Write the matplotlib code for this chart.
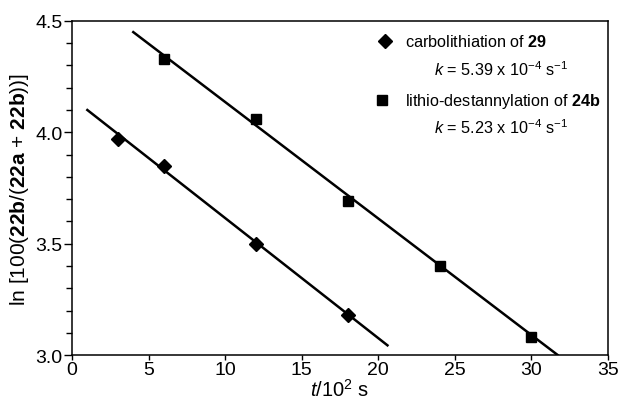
import numpy as np
import matplotlib.pyplot as plt
from matplotlib.ticker import MultipleLocator

plt.rcParams['font.family'] = ['Liberation Sans', 'DejaVu Sans']
plt.rcParams['mathtext.fontset'] = 'custom'
plt.rcParams['mathtext.rm'] = 'Liberation Sans'
plt.rcParams['mathtext.it'] = 'Liberation Sans:italic'
plt.rcParams['mathtext.bf'] = 'Liberation Sans:bold'

# carbolithiation of 29 (diamonds)
t_29 = [3, 6, 12, 18]
y_29 = [3.97, 3.85, 3.50, 3.18]
# lithio-destannylation of 24b (squares)
t_24b = [6, 12, 18, 24, 30]
y_24b = [4.33, 4.06, 3.69, 3.40, 3.08]

# fitted lines: slope = -k (in units of 10^2 s), intercept, drawn range
k_29 = 5.39e-4
k_24b = 5.23e-4
b_29 = 4.154
b_24b = 4.659
fit_29_range = [1.0, 20.6]
fit_24b_range = [4.0, 31.7]

fig = plt.figure(figsize=(6.21, 4.06), dpi=100)
ax = fig.add_axes([0.116, 0.123, 0.863, 0.823])

xf = np.array(fit_29_range)
ax.plot(xf, b_29 - k_29 * 100 * xf, color='black', lw=1.8)
xf = np.array(fit_24b_range)
ax.plot(xf, b_24b - k_24b * 100 * xf, color='black', lw=1.8)

ax.plot(t_29, y_29, 'D', color='black', ms=7.5, ls='none')
ax.plot(t_24b, y_24b, 's', color='black', ms=7, ls='none')

ax.set_xlim(0, 35)
ax.set_ylim(3.0, 4.5)
ax.xaxis.set_major_locator(MultipleLocator(5))
ax.yaxis.set_major_locator(MultipleLocator(0.5))
ax.yaxis.set_minor_locator(MultipleLocator(0.1))
ax.yaxis.set_major_formatter(plt.FormatStrFormatter('%.1f'))
ax.tick_params(axis='x', direction='out', length=3.5, width=1, labelsize=14, pad=1)
ax.tick_params(axis='y', which='major', direction='out', length=6, width=1, labelsize=14, pad=1)
ax.tick_params(axis='y', which='minor', direction='out', length=4, width=1)
for s in ax.spines.values():
    s.set_linewidth(1.1)

ax.set_xlabel(r'$t$/10$^2$ s', fontsize=14.5, labelpad=0)
ax.set_ylabel(r'ln [100($\mathbf{22b}$/($\mathbf{22a}$ + $\mathbf{22b}$))]', fontsize=15, labelpad=3)

# legend drawn as text and markers
ax.plot([20.45], [4.41], 'D', color='black', ms=7.5, clip_on=False)
ax.text(21.75, 4.41, r'carbolithiation of $\mathbf{29}$', fontsize=11.7, va='center')
ax.text(28.0, 4.284, r'$k$ = 5.39 x 10$^{-4}$ s$^{-1}$', fontsize=11.7, va='center', ha='center')
ax.plot([20.25], [4.145], 's', color='black', ms=7, clip_on=False)
ax.text(21.75, 4.145, r'lithio-destannylation of $\mathbf{24b}$', fontsize=11.7, va='center')
ax.text(28.0, 4.024, r'$k$ = 5.23 x 10$^{-4}$ s$^{-1}$', fontsize=11.7, va='center', ha='center')

fig.savefig('out.png', dpi=100)
